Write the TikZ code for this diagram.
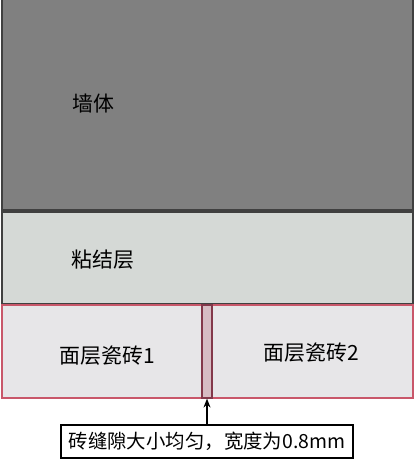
\documentclass[tikz,border=0pt]{standalone}
\usepackage{fontspec}
\setmainfont{Noto Sans CJK SC}
\usetikzlibrary{arrows.meta}
\definecolor{wallgray}{HTML}{808080}
\definecolor{glugray}{HTML}{D5D9D6}
\definecolor{tilegray}{HTML}{E7E6E8}
\definecolor{tilered}{HTML}{C9576A}
\definecolor{jointpink}{HTML}{D6BCC3}
\definecolor{jointred}{HTML}{83384A}
\tikzset{
  layer/.style={draw=black!75, line width=1.2bp, inner sep=0pt, outer sep=0pt},
  tile/.style={draw=tilered, fill=tilegray, line width=1.2bp, inner sep=0pt, outer sep=0pt},
  txt/.style={font=\fontsize{21}{24}\selectfont, inner sep=0pt}
}
\begin{document}
\begin{tikzpicture}[x=1bp, y=-1bp]
    \useasboundingbox (0,0) rectangle (416,462);
    % layers of the wall
    \node (wall) [layer, fill=wallgray, minimum width=411bp, minimum height=211bp] at (207.5, 104.5) {};
    \node (glue) [layer, fill=glugray, minimum width=411bp, minimum height=92bp] at (207.5, 258.0) {};
    % tiles and joint
    \node (tilea) [tile, minimum width=200bp, minimum height=93bp] at (102.0, 351.5) {};
    \node (tileb) [tile, minimum width=201bp, minimum height=93bp] at (312.5, 351.5) {};
    \node (joint) [draw=jointred, fill=jointpink, line width=1.2bp, inner sep=0pt,
                   minimum width=10bp, minimum height=93bp] at (207.0, 351.5) {};
    % labels of each layer
    \node at ( 93.0, 104.0) [txt] {墙体};
    \node at (103.0, 260.0) [txt] {粘结层};
    \node at (107.0, 356.0) [txt] {面层瓷砖1};
    \node at (311.0, 353.0) [txt] {面层瓷砖2};
    % note below the joint
    \node (note) [draw=black, fill=white, line width=1.2bp, txt, font=\fontsize{19.5}{24}\selectfont,
                  minimum width=292bp, minimum height=33bp] at (207.0, 441.5) {砖缝隙大小均匀，宽度为0.8mm};
    \draw [-{Stealth[length=9bp,width=7bp]}, line width=1.2bp] (note.north) -- (joint.south);
\end{tikzpicture}
\end{document}
